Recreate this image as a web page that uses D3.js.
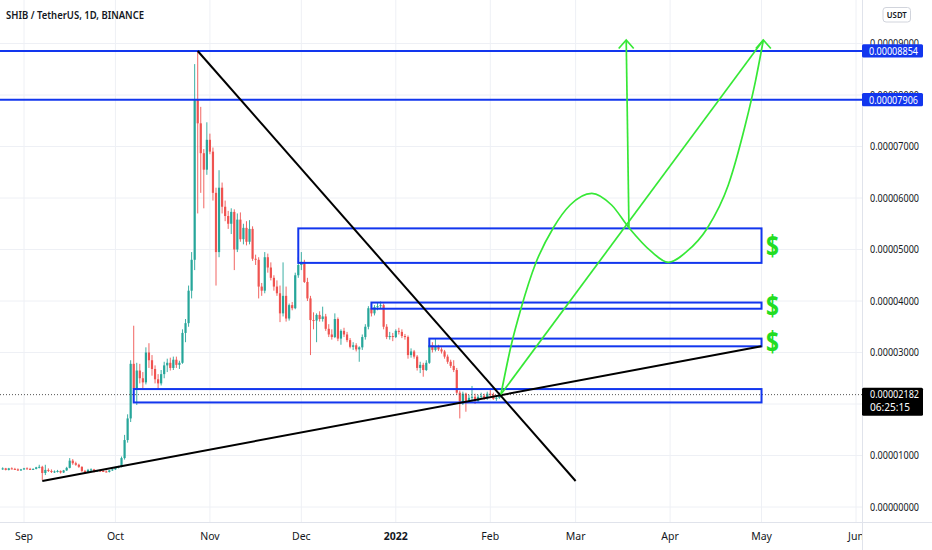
<!DOCTYPE html>
<html><head><meta charset="utf-8">
<script src="https://cdn.jsdelivr.net/npm/d3@7"></script>
<style>body{margin:0;background:#fff;}svg{display:block;}</style>
</head><body>
<svg id="c" width="932" height="550"></svg>
<script>
// ---------- DATA (prices in units of 1e-5 USDT) ----------
const firstCandle = "2021-08-25";
const opens = [
 .74,.75,.72,.75,.74,.73,.71,
 .73,.75,.74,.73,.74,.77,.78,.66,.72,.70,.68,.69,.70,.67,.71,.76,.90,.85,.82,.78,.70,.67,.72,.73,.70,.71,.70,.69,.68,.71,
 .73,.77,.78,.95,1.30,1.72,2.78,2.30,2.65,2.50,2.42,3.00,2.85,2.68,2.48,2.40,2.58,2.75,2.80,2.70,2.86,2.76,2.80,3.38,3.57,4.20,4.80,7.90,7.45,6.87,6.55,
 7.13,6.90,6.10,4.95,6.20,5.83,5.65,5.50,5.73,5.00,5.58,5.20,5.42,5.15,5.40,4.82,4.80,4.28,4.20,4.85,4.65,4.45,4.28,4.15,3.76,4.10,3.66,3.92,3.86,4.50,
 4.70,4.76,4.37,4.05,3.63,3.62,3.73,3.65,3.70,3.46,3.35,3.30,3.65,3.27,3.42,3.35,3.24,3.11,3.14,3.06,3.10,3.30,3.50,3.86,3.76,3.88,3.90,3.92,3.50,3.30,3.32,
 3.30,3.42,3.40,3.32,3.30,2.95,3.02,2.92,2.70,2.76,2.66,2.80,3.14,3.05,3.12,3.06,3.02,2.92,2.82,2.74,2.66,2.22,2.01,2.20,2.06,2.12,2.14,2.06,2.14,2.16,2.12,
 2.20,2.18,2.10,2.12
];
const highs = [
 .77,.76,.76,.77,.76,.75,.74,
 .76,.77,.76,.75,.78,.82,.80,.82,.75,.73,.71,.72,.71,.72,.78,.95,.93,.88,.84,.79,.72,.74,.75,.74,.72,.73,.72,.71,.72,.74,
 .78,.80,.98,1.40,1.80,2.85,3.52,2.80,2.78,2.62,3.10,3.18,2.95,2.75,2.58,2.66,2.82,2.88,2.90,2.92,2.92,2.84,3.45,3.65,4.30,4.95,8.60,8.854,7.77,6.95,7.47,
 7.25,6.98,6.20,6.54,6.30,5.95,5.75,5.80,5.78,5.70,5.72,5.50,5.55,5.57,5.45,4.90,4.85,4.35,4.95,4.92,4.75,4.50,4.40,4.30,4.75,4.28,3.95,3.98,4.55,4.85,
 4.95,4.80,4.45,4.10,3.78,3.76,3.80,3.89,3.75,3.55,3.45,3.76,3.68,3.45,3.48,3.40,3.28,3.20,3.18,3.12,3.35,3.55,3.90,3.95,3.92,3.96,3.99,3.95,3.55,3.40,3.38,
 3.45,3.48,3.45,3.36,3.33,3.08,3.05,2.95,2.82,2.80,2.85,3.27,3.20,3.27,3.15,3.10,3.05,2.96,2.86,2.85,2.70,2.26,2.24,2.22,2.18,2.35,2.20,2.18,2.22,2.20,2.24,
 2.28,2.22,2.16,2.22
];
const lows = [
 .72,.71,.71,.73,.72,.70,.70,
 .72,.73,.72,.72,.73,.75,.52,.62,.68,.66,.66,.67,.65,.66,.70,.75,.82,.80,.76,.68,.65,.66,.70,.67,.68,.68,.68,.67,.67,.70,
 .72,.75,.77,.92,1.25,1.65,2.15,1.98,2.40,2.30,2.38,2.70,2.55,2.40,2.30,2.36,2.50,2.62,2.65,2.66,2.70,2.68,2.78,3.20,3.50,4.05,4.60,5.70,6.10,5.80,6.45,
 6.85,5.95,4.30,4.85,5.70,5.55,5.40,5.30,4.60,4.95,5.15,5.10,5.08,5.10,4.78,4.70,4.05,4.10,4.15,4.55,4.40,4.20,4.10,3.59,3.70,3.60,3.62,3.82,3.84,4.45,
 4.60,4.35,4.00,2.95,3.45,3.20,3.60,3.60,3.42,3.30,3.25,3.28,3.22,3.15,3.30,3.20,3.08,3.05,3.02,2.82,3.05,3.25,3.45,3.70,3.72,3.82,3.85,3.45,3.26,3.25,3.22,
 3.28,3.35,3.28,3.25,2.88,2.90,2.88,2.65,2.60,2.53,2.64,2.78,3.00,3.02,3.03,2.98,2.88,2.78,2.70,2.62,2.18,1.72,1.98,1.85,2.02,2.05,2.00,2.03,2.10,2.08,2.08,
 2.15,2.08,2.06,2.10
];
const closes = [
 .75,.72,.75,.74,.73,.71,.73,
 .75,.74,.73,.74,.77,.78,.66,.72,.70,.68,.69,.70,.67,.71,.76,.90,.85,.82,.78,.70,.67,.72,.73,.70,.71,.70,.69,.68,.71,.73,
 .77,.78,.95,1.30,1.72,2.78,2.30,2.65,2.50,2.42,3.00,2.85,2.68,2.48,2.40,2.58,2.75,2.80,2.70,2.86,2.76,2.80,3.38,3.57,4.20,4.80,7.90,7.45,6.87,6.55,7.13,
 6.90,6.10,4.95,6.20,5.83,5.65,5.50,5.73,5.00,5.58,5.20,5.42,5.15,5.40,4.82,4.80,4.28,4.20,4.85,4.65,4.45,4.28,4.15,3.76,4.10,3.66,3.92,3.86,4.50,4.70,
 4.76,4.37,4.05,3.63,3.62,3.73,3.65,3.70,3.46,3.35,3.30,3.65,3.27,3.42,3.35,3.24,3.11,3.14,3.06,3.10,3.30,3.50,3.86,3.76,3.88,3.90,3.92,3.50,3.30,3.32,3.30,
 3.42,3.40,3.32,3.30,2.95,3.02,2.92,2.70,2.76,2.66,2.80,3.14,3.05,3.12,3.06,3.02,2.92,2.82,2.74,2.66,2.22,2.01,2.20,2.06,2.12,2.14,2.06,2.14,2.16,2.12,2.20,
 2.18,2.10,2.12,2.182
];
const priceTicks = [0,1,2,3,4,5,6,7,8,9];
const monthTicks = ["2021-09-01","2021-10-01","2021-11-01","2021-12-01","2022-01-01","2022-02-01","2022-03-01","2022-04-01","2022-05-01","2022-06-01"];
const monthLabels = ["Sep","Oct","Nov","Dec","2022","Feb","Mar","Apr","May","Jun"];
const levelPrices = [8.854, 7.906];
const lastPrice = 2.182;
const countdown = "06:25:15";
// zones (rectangles)
const zoneStart = ["2021-11-30","2021-12-24","2022-01-12","2021-10-07"];
const zoneEnd   = ["2022-05-01","2022-05-01","2022-05-01","2022-05-01"];
const zoneTop   = [5.41, 3.97, 3.27, 2.29];
const zoneBottom= [4.74, 3.85, 3.12, 2.03];
const dollarZones = [0,1,2];
// black trend lines
const trendStart = ["2021-10-28","2021-09-07"];
const trendStartP = [8.854, 0.505];
const trendEnd = ["2022-03-01","2022-05-01"];
const trendEndP = [0.505, 3.12];
// green projection paths (days after 2021-09-01, price)
const curveDays   = [156.5,159.8,163.1,167.9,173.7,179.2,186.3,192.8,198.5,205.9,211.4,217.4,224.3,231.1,236.6,240.0,242.6];
const curvePrices = [2.188,3.126,3.858,4.732,5.423,5.864,6.091,5.864,5.423,4.957,4.751,4.957,5.423,6.252,7.402,8.266,9.068];
const lineDays    = [156.5, 242.6];
const linePrices  = [2.188, 9.068];
const upDays      = [198.5, 197.6];
const upPrices    = [5.423, 9.068];

// ---------- SETUP ----------
const parse = d3.utcParse("%Y-%m-%d");
const baseDay = parse("2021-09-01");
const dayToDate = d => new Date(baseDay.getTime() + d*86400000);
const W = 932, H = 550, plotR = 862, plotB = 522;
const x = d3.scaleUtc().domain([parse("2021-09-01"), parse("2022-06-01")]).range([24, 856]);
const y = d3.scaleLinear().domain([0, 9]).range([507, 43.5]);
const unit = 1e-5;
const fmt = v => (v*unit).toFixed(8);
const BLUE = "#1236ee", GREEN = "#36e836", UP = "#26a69a", DOWN = "#ef5350";
const FONT = "'Noto Sans', 'Open Sans', sans-serif";

const svg = d3.select("#c");
svg.append("rect").attr("width", W).attr("height", H).attr("fill", "#fff");
const defs = svg.append("defs");
defs.append("clipPath").attr("id","plot")
  .append("rect").attr("x",0).attr("y",0).attr("width",plotR).attr("height",plotB);
defs.append("clipPath").attr("id","tl")
  .append("rect").attr("x",0).attr("y",plotB).attr("width",plotR).attr("height",H-plotB);

// grid
const grid = svg.append("g").attr("clip-path","url(#plot)");
grid.selectAll(".vg").data(monthTicks).join("line")
  .attr("x1", d=>x(parse(d))).attr("x2", d=>x(parse(d)))
  .attr("y1",0).attr("y2",plotB).attr("stroke","#eef0f5").attr("stroke-width",1);
grid.selectAll(".hg").data(priceTicks).join("line")
  .attr("x1",0).attr("x2",plotR).attr("y1",d=>y(d)).attr("y2",d=>y(d))
  .attr("stroke","#eef0f5").attr("stroke-width",1);

// candles
const start = parse(firstCandle);
const candles = closes.map((c,i)=>({date:new Date(start.getTime()+i*86400000), o:opens[i], h:highs[i], l:lows[i], c}));
const cg = svg.append("g").attr("clip-path","url(#plot)");
cg.selectAll(".w").data(candles).join("line")
  .attr("x1",d=>x(d.date)).attr("x2",d=>x(d.date))
  .attr("y1",d=>y(d.h)).attr("y2",d=>y(d.l))
  .attr("stroke",d=>d.c>=d.o?UP:DOWN).attr("stroke-width",0.9);
cg.selectAll(".b").data(candles).join("rect")
  .attr("x",d=>x(d.date)-1.1).attr("width",2.2)
  .attr("y",d=>y(Math.max(d.o,d.c)))
  .attr("height",d=>Math.max(1,Math.abs(y(d.o)-y(d.c))))
  .attr("fill",d=>d.c>=d.o?UP:DOWN);

// current price dotted line
svg.append("line").attr("x1",0).attr("x2",plotR).attr("y1",y(lastPrice)).attr("y2",y(lastPrice))
  .attr("stroke","#555").attr("stroke-width",1).attr("stroke-dasharray","1,2");

const ann = svg.append("g").attr("clip-path","url(#plot)");
ann.selectAll(".lv").data(levelPrices).join("line")
  .attr("x1",0).attr("x2",plotR).attr("y1",d=>y(d)).attr("y2",d=>y(d))
  .attr("stroke",BLUE).attr("stroke-width",2);
ann.selectAll(".zone").data(zoneStart.map((s,i)=>i)).join("rect")
  .attr("x",i=>x(parse(zoneStart[i]))).attr("width",i=>x(parse(zoneEnd[i]))-x(parse(zoneStart[i])))
  .attr("y",i=>y(zoneTop[i])).attr("height",i=>y(zoneBottom[i])-y(zoneTop[i]))
  .attr("fill","none").attr("stroke",BLUE).attr("stroke-width",2);
ann.selectAll(".tl").data(trendStart.map((s,i)=>i)).join("line")
  .attr("x1",i=>x(parse(trendStart[i]))).attr("y1",i=>y(trendStartP[i]))
  .attr("x2",i=>x(parse(trendEnd[i]))).attr("y2",i=>y(trendEndP[i]))
  .attr("stroke","#000").attr("stroke-width",2);
// green projections
const gl = d3.line().x(d=>x(dayToDate(d[0]))).y(d=>y(d[1])).curve(d3.curveMonotoneX);
ann.append("path").attr("d", gl(curveDays.map((d,i)=>[d,curvePrices[i]])))
  .attr("fill","none").attr("stroke",GREEN).attr("stroke-width",1.7);
const straight = d3.line().x(d=>x(dayToDate(d[0]))).y(d=>y(d[1]));
ann.append("path").attr("d", straight(lineDays.map((d,i)=>[d,linePrices[i]])))
  .attr("fill","none").attr("stroke",GREEN).attr("stroke-width",1.7);
ann.append("path").attr("d", straight(upDays.map((d,i)=>[d,upPrices[i]])))
  .attr("fill","none").attr("stroke",GREEN).attr("stroke-width",1.7);
[[upDays[1],upPrices[1]],[lineDays[1],linePrices[1]]].forEach(([d,p])=>{
  const ax = x(dayToDate(d)), ay = y(p);
  ann.append("path").attr("d",`M${ax-7.5},${ay+8.5}L${ax},${ay}L${ax+7.5},${ay+8.5}`)
    .attr("fill","none").attr("stroke",GREEN).attr("stroke-width",1.7);
});
// dollar signs
svg.selectAll(".dol").data(dollarZones).join("text")
  .attr("transform",i=>`translate(${x(parse(zoneEnd[i]))+11},${y((zoneTop[i]+zoneBottom[i])/2)+10}) scale(0.78,1)`)
  .attr("text-anchor","middle").attr("font-family",FONT).attr("font-weight",700)
  .attr("font-size",29).attr("fill","#22dd22").text("$");

// ---------- AXES ----------
svg.append("g").attr("clip-path","url(#tl)").selectAll("text").data(monthTicks).join("text")
  .attr("x",d=>x(parse(d))).attr("y",539.5).attr("text-anchor","middle")
  .attr("font-family",FONT).attr("font-size",10.5)
  .attr("font-weight",(d,i)=>monthLabels[i]==="2022"?700:400)
  .attr("fill","#131722").text((d,i)=>monthLabels[i]);
svg.append("line").attr("x1",0).attr("x2",W).attr("y1",plotB+0.5).attr("y2",plotB+0.5).attr("stroke","#e0e3eb");
svg.append("line").attr("x1",plotR+0.5).attr("x2",plotR+0.5).attr("y1",0).attr("y2",H).attr("stroke","#e0e3eb");
// price labels (the one fully hidden under the last-price tag is not drawn)
const tagTop = y(lastPrice)-7, tagBottom = y(lastPrice)+21;
svg.selectAll(".pl").data(priceTicks.filter(t=>y(t)-5<tagTop || y(t)+5>tagBottom)).join("text")
  .attr("x",870).attr("y",d=>y(d)+3.8).attr("font-family",FONT).attr("font-size",11)
  .attr("textLength",49).attr("lengthAdjust","spacingAndGlyphs")
  .attr("fill","#131722").text(d=>fmt(d));
levelPrices.forEach(p=>{
  svg.append("rect").attr("x",plotR).attr("y",y(p)-6.8).attr("width",61).attr("height",13.2).attr("rx",1.5).attr("fill",BLUE);
  svg.append("text").attr("x",869).attr("y",y(p)+3.9).attr("font-family",FONT).attr("font-size",11)
    .attr("textLength",49).attr("lengthAdjust","spacingAndGlyphs").attr("fill","#fff").text(fmt(p));
});
svg.append("rect").attr("x",plotR).attr("y",tagTop).attr("width",61).attr("height",28).attr("rx",1.5).attr("fill","#000");
svg.append("text").attr("x",870).attr("y",y(lastPrice)+3.6).attr("font-family",FONT).attr("font-size",10.5)
  .attr("textLength",49).attr("lengthAdjust","spacingAndGlyphs").attr("fill","#fff").text(fmt(lastPrice));
svg.append("text").attr("x",870).attr("y",y(lastPrice)+16.4).attr("font-family",FONT).attr("font-size",10.5)
  .attr("textLength",40).attr("lengthAdjust","spacingAndGlyphs").attr("fill","#fff").text(countdown);
svg.append("rect").attr("x",883).attr("y",7.5).attr("width",27.5).attr("height",14.5).attr("rx",3)
  .attr("fill","#fff").attr("stroke","#d1d4dc");
svg.append("text").attr("x",896.8).attr("y",18.2).attr("text-anchor","middle").attr("font-family",FONT)
  .attr("font-size",9).attr("font-weight",600).attr("textLength",20).attr("lengthAdjust","spacingAndGlyphs")
  .attr("fill","#131722").text("USDT");
svg.append("text").attr("x",6).attr("y",19.3).attr("font-family",FONT).attr("font-size",10.8).attr("font-weight",600)
  .attr("textLength",138).attr("lengthAdjust","spacingAndGlyphs")
  .attr("fill","#131722").text("SHIB / TetherUS, 1D, BINANCE");
</script>
</body></html>
